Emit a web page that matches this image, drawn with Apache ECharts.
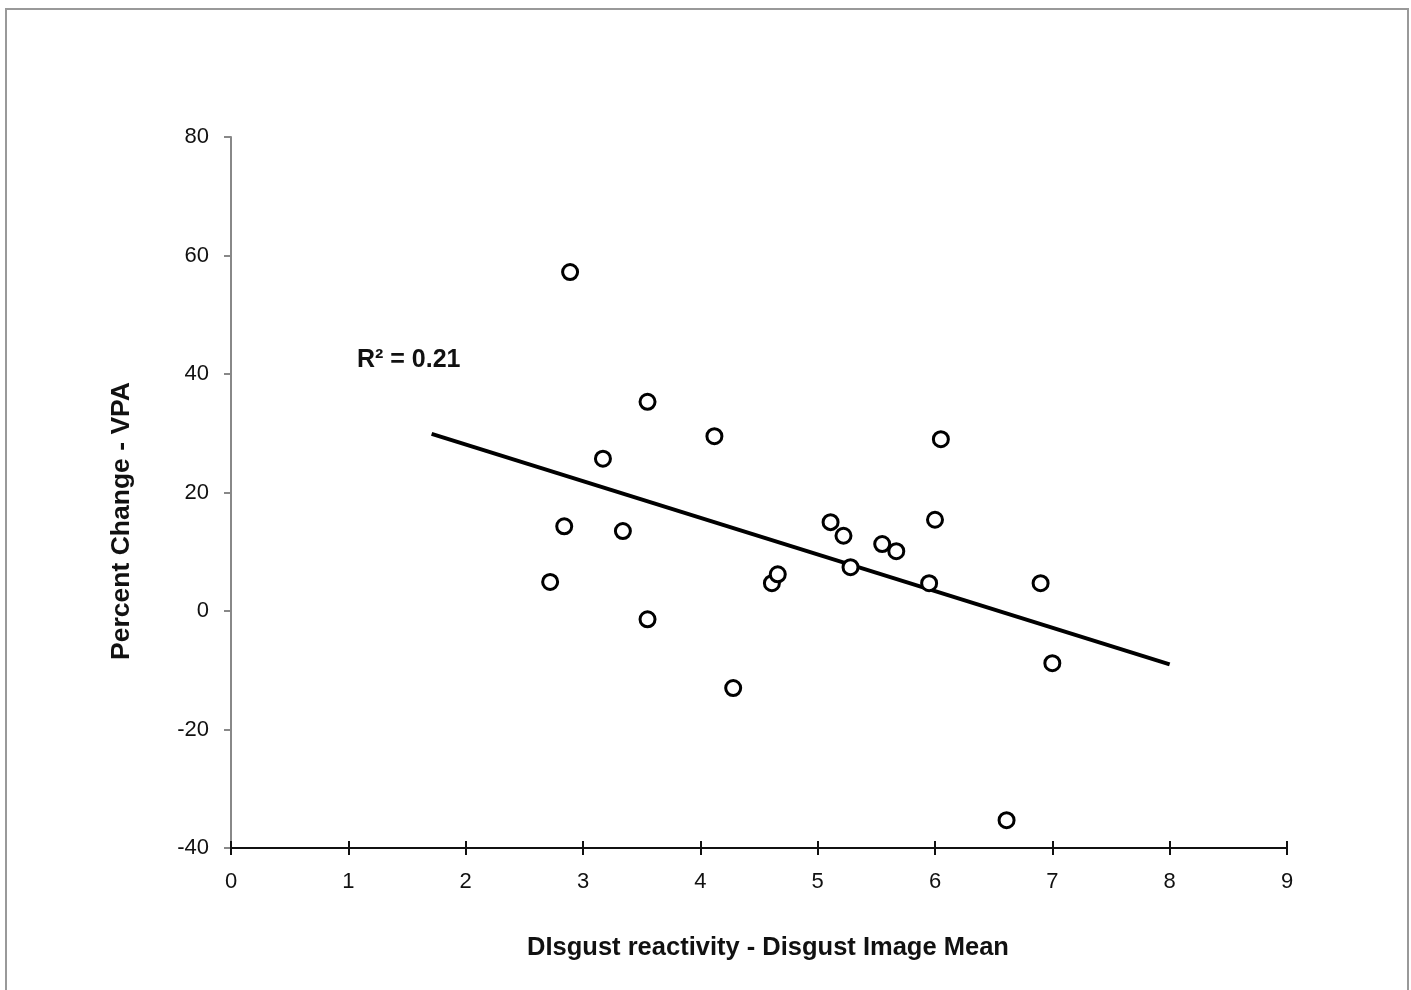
<!DOCTYPE html>
<html>
<head>
<meta charset="utf-8">
<script src="https://cdn.jsdelivr.net/npm/echarts@6/dist/echarts.min.js"></script>
<style>
html,body{margin:0;padding:0;background:#fff;}
#chart{width:1411px;height:990px;}
</style>
</head>
<body>
<div id="chart"></div>
<script>
// Data
const xValues = [2.89, 3.55, 4.12, 3.17, 2.84, 3.34, 2.72, 3.55, 4.28, 4.61, 4.66, 5.11, 5.22, 5.28, 5.55, 5.67, 6.05, 6.00, 5.95, 6.90, 7.00, 6.61];
const yValues = [57.2, 35.3, 29.5, 25.7, 14.3, 13.5, 4.9, -1.4, -13.0, 4.7, 6.2, 15.0, 12.7, 7.4, 11.3, 10.1, 29.0, 15.4, 4.7, 4.7, -8.8, -35.3];
const trendX = [1.71, 8.0];
const trendY = [29.9, -9.0];
const xTicks = [0, 1, 2, 3, 4, 5, 6, 7, 8, 9];
const yTicks = [-40, -20, 0, 20, 40, 60, 80];
const rSquaredLabel = 'R² = 0.21';
const xTitle = 'DIsgust reactivity - Disgust Image Mean';
const yTitle = 'Percent Change - VPA';

const points = xValues.map((x, i) => [x, yValues[i]]);
const trend = trendX.map((x, i) => [x, trendY[i]]);

const chart = echarts.init(document.getElementById('chart'));
const FONT = 'Liberation Sans, Arial, sans-serif';
const gridBox = {left: 231, right: 124, top: 137, bottom: 142};

chart.setOption({
  animation: false,
  backgroundColor: '#fff',
  grid: gridBox,
  xAxis: [{
    type: 'value', min: xTicks[0], max: xTicks[xTicks.length - 1], interval: 1,
    axisLine: {show: true, onZero: false, lineStyle: {color: '#111', width: 2}},
    axisTick: {show: true, inside: false, length: 7, lineStyle: {color: '#111', width: 2}},
    axisLabel: {color: '#111', fontSize: 22, fontFamily: FONT, margin: 23},
    splitLine: {show: false}
  }, {
    type: 'value', min: xTicks[0], max: xTicks[xTicks.length - 1], interval: 1,
    position: 'bottom',
    axisLine: {show: false, onZero: false},
    axisTick: {show: true, inside: true, length: 7, lineStyle: {color: '#111', width: 2}},
    axisLabel: {show: false},
    splitLine: {show: false}
  }],
  yAxis: {
    type: 'value', min: yTicks[0], max: yTicks[yTicks.length - 1], interval: 20,
    axisLine: {show: true, onZero: false, lineStyle: {color: '#888', width: 2}},
    axisTick: {show: true, inside: false, length: 7, lineStyle: {color: '#888', width: 2}},
    axisLabel: {color: '#111', fontSize: 22, fontFamily: FONT, margin: 22},
    splitLine: {show: false}
  },
  series: [{
    type: 'line',
    data: trend,
    symbol: 'none',
    lineStyle: {color: '#000', width: 4},
    z: 2
  }, {
    type: 'scatter',
    data: points,
    symbol: 'circle',
    symbolSize: 15,
    itemStyle: {color: '#fff', borderColor: '#000', borderWidth: 3, opacity: 1},
    z: 3
  }],
  graphic: [
    {type: 'rect', shape: {x: 6, y: 9, width: 1402, height: 1000}, style: {fill: 'none', stroke: '#999', lineWidth: 2}, silent: true},
    {type: 'text', x: 357, y: 360, style: {text: rSquaredLabel, fill: '#111', font: 'bold 25px ' + FONT, verticalAlign: 'middle'}},
    {type: 'text', x: 768, y: 948, style: {text: xTitle, fill: '#111', font: 'bold 25.5px ' + FONT, align: 'center', verticalAlign: 'middle'}},
    {type: 'text', x: 122, y: 521, rotation: Math.PI / 2, style: {text: yTitle, fill: '#111', font: 'bold 26.5px ' + FONT, align: 'center', verticalAlign: 'middle'}}
  ]
});
</script>
</body>
</html>
